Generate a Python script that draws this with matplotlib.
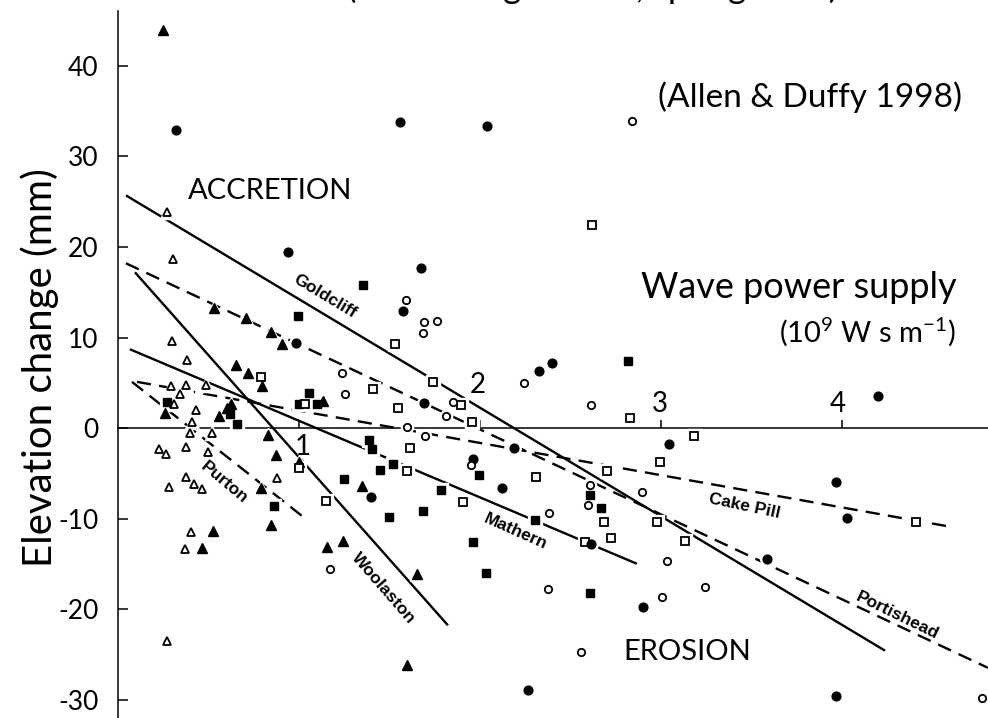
import matplotlib
matplotlib.use('Agg')
import matplotlib.pyplot as plt

plt.rcParams['font.family'] = ['Lato', 'DejaVu Sans']
plt.rcParams['mathtext.fontset'] = 'custom'
plt.rcParams['mathtext.rm'] = 'Lato'
plt.rcParams['axes.unicode_minus'] = False

# wave power supply (10^9 W s m^-1) and elevation change (mm) by site marker
tri_fill_x = [0.249, 0.530, 0.707, 0.845, 0.906, 0.652, 0.718, 0.796, 0.260, 0.624, 0.602, 0.558, 1.133,
              0.829, 0.873, 1.000, 0.790, 0.845, 0.525, 0.464, 1.155, 1.243, 1.348, 1.652, 1.597]
tri_fill_y = [44.0, 13.3, 12.2, 10.6, 9.3, 7.0, 6.1, 4.6, 1.7, 2.7, 2.2, 1.3, 3.0,
              -0.8, -3.0, -3.8, -6.6, -10.7, -11.4, -13.3, -13.2, -12.5, -6.4, -16.1, -26.2]

tri_open_x = [0.271, 0.304, 0.298, 0.381, 0.293, 0.376, 0.486, 0.343, 0.309, 0.431, 0.409, 0.398, 0.519,
              0.227, 0.265, 0.376, 0.497, 0.376, 0.420, 0.464, 0.282, 0.878, 0.403, 0.370, 0.271]
tri_open_y = [23.9, 18.7, 9.6, 7.5, 4.6, 4.8, 4.8, 3.8, 2.7, 2.0, 0.7, -0.6, -0.6,
              -2.3, -2.9, -2.1, -2.7, -5.4, -6.2, -6.7, -6.5, -5.5, -11.5, -13.4, -23.5]

sq_fill_x = [0.994, 1.354, 0.271, 0.619, 0.657, 1.055, 1.000, 1.099, 1.387, 1.403, 1.448, 1.519, 1.249,
             0.862, 1.785, 1.497, 1.685, 1.994, 2.304, 1.961, 2.033, 2.608, 2.669, 2.608, 2.818]
sq_fill_y = [12.4, 15.8, 2.9, 1.5, 0.4, 3.9, 2.7, 2.7, -1.3, -2.3, -4.6, -4.0, -5.6,
             -8.6, -6.9, -9.8, -9.2, -5.2, -10.2, -12.6, -16.0, -7.4, -8.8, -18.2, 7.4]

sq_open_x = [2.619, 1.530, 0.790, 1.033, 1.409, 1.547, 1.740, 1.895, 1.956, 1.613, 1.597, 1.149, 1.000,
             1.906, 2.309, 2.829, 3.182, 2.994, 2.702, 2.685, 2.978, 2.724, 2.580, 3.133, 4.409]
sq_open_y = [22.4, 9.3, 5.6, 2.7, 4.3, 2.2, 5.1, 2.5, 0.7, -2.2, -4.8, -8.1, -4.4,
             -8.2, -5.4, 1.1, -0.9, -3.8, -4.8, -10.4, -10.4, -12.2, -12.6, -12.5, -10.4]

circ_fill_x = [0.320, 1.558, 2.039, 0.939, 1.674, 1.575, 0.983, 1.691, 2.326, 2.398, 2.188, 1.961,
               2.122, 1.398, 2.613, 3.044, 4.199, 3.967, 4.028, 3.586, 2.901, 2.265, 3.967]
circ_fill_y = [32.9, 33.8, 33.4, 19.4, 17.7, 12.9, 9.4, 2.8, 6.3, 7.2, -2.2, -3.4,
               -6.6, -7.6, -12.8, -1.8, 3.5, -6.0, -9.9, -14.5, -19.8, -29.0, -29.6]

circ_open_x = [2.840, 1.591, 1.691, 1.762, 1.685, 1.238, 1.254, 1.851, 1.812, 1.597, 1.696, 2.243, 2.613,
               1.950, 2.608, 2.597, 2.895, 2.381, 3.033, 3.006, 3.243, 2.376, 2.558, 1.171, 4.773]
circ_open_y = [33.9, 14.1, 11.7, 11.8, 10.5, 6.1, 3.8, 2.9, 1.3, 0.1, -0.9, 5.0, 2.5,
               -4.1, -6.3, -8.5, -7.1, -9.4, -14.7, -18.7, -17.6, -17.8, -24.8, -15.6, -29.8]

# fitted lines per site: (x0, x1), (y0, y1)
sites = ['Goldcliff', 'Portishead', 'Woolaston', 'Mathern', 'Cake Pill', 'Purton']
site_x = [(0.044, 4.238), (0.044, 4.807), (0.094, 1.823), (0.066, 2.867), (0.105, 4.597), (0.077, 1.022)]
site_y = [(25.7, -24.6), (18.2, -26.5), (17.2, -21.8), (8.7, -15.0), (5.1, -10.9), (5.1, -9.8)]
site_dashed = [False, True, False, False, True, True]

fig = plt.figure(figsize=(9.88, 7.18), dpi=100)
ax = fig.add_axes([118 / 988, 0, 1 - 118 / 988, 1])
ax.set_xlim(0, 4.807)
ax.set_ylim(-32.04, 47.29)

for xs, ys, dashed in zip(site_x, site_y, site_dashed):
    ls = (0, (6, 3.5)) if dashed else '-'
    ax.plot(xs, ys, color='black', lw=1.7, linestyle=ls, zorder=2, solid_capstyle='butt')

def pts(x, y, marker, ms, filled):
    # white halo first, so lines break around the markers
    ax.plot(x, y, linestyle='none', marker=marker, ms=ms + 3.5, color='white', mec='white', zorder=3)
    if filled:
        ax.plot(x, y, linestyle='none', marker=marker, ms=ms, color='black', mec='black', zorder=4)
    else:
        ax.plot(x, y, linestyle='none', marker=marker, ms=ms, mfc='white', mec='black', mew=1.3, zorder=4)

pts(tri_fill_x, tri_fill_y, '^', 7, True)
pts(tri_open_x, tri_open_y, '^', 6.3, False)
pts(sq_fill_x, sq_fill_y, 's', 6.2, True)
pts(sq_open_x, sq_open_y, 's', 6, False)
pts(circ_fill_x, circ_fill_y, 'o', 6.3, True)
pts(circ_open_x, circ_open_y, 'o', 5.3, False)

# axes: left spine at x=0, horizontal axis through y=0
for s in ['top', 'right']:
    ax.spines[s].set_visible(False)
ax.spines['left'].set_bounds(-32.04, 46.1)
ax.spines['left'].set_linewidth(1.1)
ax.spines['bottom'].set_position(('data', 0))
ax.spines['bottom'].set_linewidth(1.1)
ax.spines['bottom'].set_zorder(1)

ax.set_yticks([-30, -20, -10, 0, 10, 20, 30, 40])
ax.tick_params(axis='y', direction='in', length=7, width=1.1, pad=14, labelsize=19)
ax.set_xticks([1, 2, 3, 4])
ax.tick_params(axis='x', direction='in', length=6, width=1.1, labelbottom=False)
ax.patch.set_visible(False)

for lab, (tx, ty) in zip(['1', '2', '3', '4'], [(1.022, -2.1), (1.989, 4.7), (2.994, 2.65), (3.978, 2.65)]):
    ax.text(tx, ty, lab, fontsize=20, ha='center', va='center', zorder=5)

# site labels along their lines
lab_style = dict(family='Liberation Sans', fontweight='bold', fontsize=12.5, ha='center', va='center',
                 rotation_mode='anchor', zorder=5)
ax.text(1.144, 14.5, 'Goldcliff', rotation=-31, **lab_style)
ax.text(0.586, -6.0, 'Purton', rotation=-40, **lab_style)
ax.text(1.464, -17.7, 'Woolaston', rotation=-49, **lab_style)
ax.text(2.199, -11.4, 'Mathern', rotation=-24, **lab_style)
ax.text(3.464, -8.6, 'Cake Pill', rotation=-12, **lab_style)
ax.text(4.304, -20.7, 'Portishead', rotation=-26, **lab_style)

ax.text(0.387, 25.3, 'ACCRETION', fontsize=21, ha='left', va='baseline')
ax.text(2.79, -25.6, 'EROSION', fontsize=21, ha='left', va='baseline')
ax.text(4.635, 14.36, 'Wave power supply', fontsize=26, ha='right', va='baseline')
ax.text(4.63, 9.39, '(10$^{9}$ W s m$^{-1}$)', fontsize=21, ha='right', va='baseline')
ax.text(4.663, 35.5, '(Allen & Duffy 1998)', fontsize=24, ha='right', va='baseline')

fig.text(40 / 988, 1 - 368 / 718, 'Elevation change (mm)', fontsize=29, rotation=90, ha='center', va='center')
# title is cropped at the top edge in the source picture; only its lowest part shows
fig.text(0.600, 1 + 2 / 718, '(Sites along Severn, spring tides)', fontsize=25, ha='center', va='baseline')

fig.savefig('out.png', dpi=100)
